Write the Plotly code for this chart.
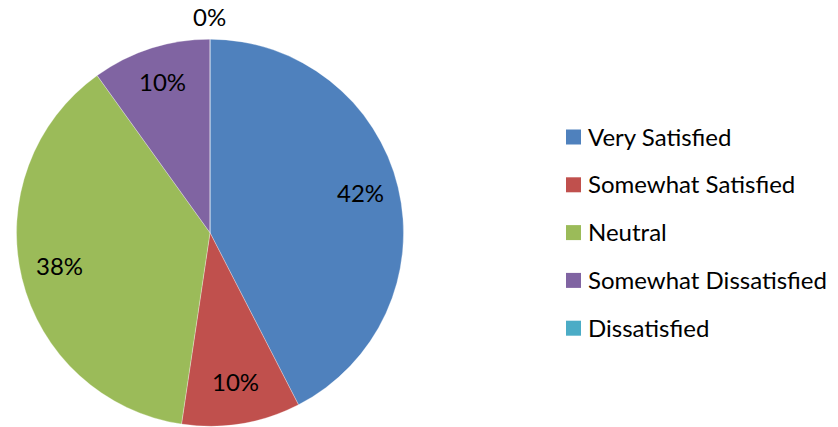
import math
import plotly.graph_objects as go

categories = ["Very Satisfied", "Somewhat Satisfied", "Neutral", "Somewhat Dissatisfied", "Dissatisfied"]
values = [42.4, 9.9, 37.7, 9.9, 0]
colors = ["#4F81BD", "#C0504D", "#9BBB59", "#8064A2", "#4BACC6"]

W, H = 838, 427
FONT = "Lato"
FS = 24

# pie geometry (pixels)
cx, cy, r = 210, 232.7, 193.5

def px(x):
    return x / W

def py(y):
    return 1 - y / H

fig = go.Figure(go.Pie(
    labels=categories,
    values=values,
    marker=dict(colors=colors, line=dict(color="white", width=0.3)),
    sort=False,
    direction="clockwise",
    rotation=0,
    textinfo="none",
    hoverinfo="label+percent",
    showlegend=False,
    domain=dict(x=[px(cx - r), px(cx + r)], y=[py(cy + r), py(cy - r)]),
))

total = sum(values)
annotations = []
cum = 0
for v in values:
    mid = (cum + v / 2) / total * 2 * math.pi
    cum += v
    rr = 0.8 * r if v > 0 else r + 19
    x = cx + rr * math.sin(mid)
    y = cy - rr * math.cos(mid)
    annotations.append(dict(
        x=px(x), y=py(y), xref="paper", yref="paper",
        text=f"{round(v / total * 100)}%", showarrow=False,
        xanchor="center", yanchor="middle", yshift=4,
        font=dict(family=FONT, size=FS, color="black"),
    ))

# manual legend
shapes = []
leg_x, leg_y0, leg_dy, sq = 566, 137, 47.8, 15
for i, (c, col) in enumerate(zip(categories, colors)):
    yc = leg_y0 + i * leg_dy
    shapes.append(dict(
        type="rect", xref="paper", yref="paper",
        x0=px(leg_x), x1=px(leg_x + sq), y0=py(yc + sq / 2), y1=py(yc - sq / 2),
        fillcolor=col, line=dict(width=0),
    ))
    annotations.append(dict(
        x=px(leg_x + sq + 5), y=py(yc), xref="paper", yref="paper",
        text=c, showarrow=False, xanchor="left", yanchor="middle", yshift=1,
        font=dict(family=FONT, size=FS, color="black"),
    ))

fig.update_layout(
    width=W, height=H,
    margin=dict(l=0, r=0, t=0, b=0),
    paper_bgcolor="white",
    plot_bgcolor="white",
    annotations=annotations,
    shapes=shapes,
)

fig.write_html(
    "out.html",
    config={"displayModeBar": False},
    post_script="document.body.style.margin='0';document.body.style.overflow='hidden';",
)
